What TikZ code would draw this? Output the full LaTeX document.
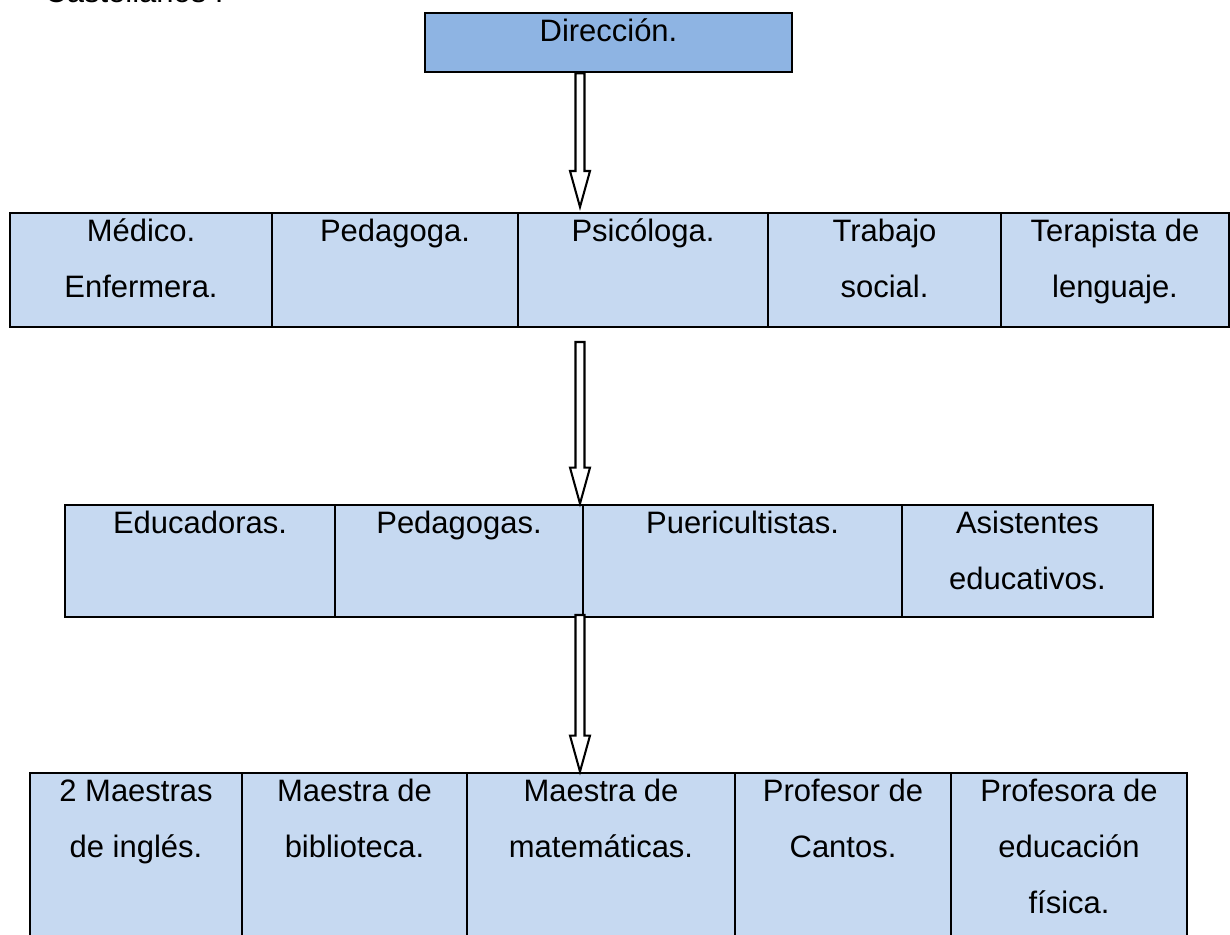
\documentclass[tikz,border=0pt]{standalone}
\usepackage{fontspec}
\setmainfont{Liberation Sans}
\usetikzlibrary{calc,fit}
\definecolor{dirblue}{HTML}{8EB4E3}
\definecolor{cellblue}{HTML}{C6D9F1}
% lines of a cell, first baseline is the node's base
\newcommand{\celltext}[1]{\begin{tabular}[t]{@{}c@{}}#1\end{tabular}}
% hollow block arrow from #1 down to the tip #2
\newcommand{\blockarrow}[2]{%
  \draw[arrowbody] ($(#1)+(-4.5,0)$) -- ($(#2)+(-4.5,-36)$) -- ($(#2)+(-10,-36)$)
    -- (#2) -- ($(#2)+(10,-36)$) -- ($(#2)+(4.5,-36)$) -- ($(#1)+(4.5,0)$) -- cycle;}

\begin{document}
\begin{tikzpicture}[x = 0.3875pt, y = -0.3875pt,
    cell/.style = {draw, line width = 1.1pt, fill = cellblue, inner sep = 0pt},
    txt/.style = {anchor = base, yshift = -11.7pt, inner sep = 0pt,
      font = \fontsize{12}{21.7}\selectfont},
    arrowbody/.style = {draw, fill = white, line width = 0.8pt}]
    \useasboundingbox (0,0) rectangle (1230,934);
    \node[anchor = base west, inner sep = 0pt, font = \fontsize{12}{21.7}\selectfont] (hdr) at (44,3) {Castellanos I};
    % Direction
    \node[cell, fill = dirblue, fit = {(425,13) (792,72)}] (dir) {};
    \node[txt] (dirt) at (dir.north) {Dirección.};
    % Specialists
    \node[cell, fit = {(10,213) (272,327)}] (m1) {};
    \node[cell, fit = {(272,213) (518,327)}] (m2) {};
    \node[cell, fit = {(518,213) (768,327)}] (m3) {};
    \node[cell, fit = {(768,213) (1001,327)}] (m4) {};
    \node[cell, fit = {(1001,213) (1229,327)}] (m5) {};
    \node[txt] (m1t) at (m1.north) {\celltext{Médico.\\Enfermera.}};
    \node[txt] (m2t) at (m2.north) {Pedagoga.};
    \node[txt] (m3t) at (m3.north) {Psicóloga.};
    \node[txt] (m4t) at (m4.north) {\celltext{Trabajo\\social.}};
    \node[txt] (m5t) at (m5.north) {\celltext{Terapista de\\lenguaje.}};
    % Educators
    \node[cell, fit = {(65,505) (335,617)}] (e1) {};
    \node[cell, fit = {(335,505) (583,617)}] (e2) {};
    \node[cell, fit = {(583,505) (902,617)}] (e3) {};
    \node[cell, fit = {(902,505) (1153,617)}] (e4) {};
    \node[txt] (e1t) at (e1.north) {Educadoras.};
    \node[txt] (e2t) at (e2.north) {Pedagogas.};
    \node[txt] (e3t) at (e3.north) {Puericultistas.};
    \node[txt] (e4t) at (e4.north) {\celltext{Asistentes\\educativos.}};
    % Teachers
    \node[cell, fit = {(30,773) (242,950)}] (t1) {};
    \node[cell, fit = {(242,773) (467,950)}] (t2) {};
    \node[cell, fit = {(467,773) (735,950)}] (t3) {};
    \node[cell, fit = {(735,773) (951,950)}] (t4) {};
    \node[cell, fit = {(951,773) (1187,950)}] (t5) {};
    \node[txt] (t1t) at (t1.north) {\celltext{2 Maestras\\de inglés.}};
    \node[txt] (t2t) at (t2.north) {\celltext{Maestra de\\biblioteca.}};
    \node[txt] (t3t) at (t3.north) {\celltext{Maestra de\\matemáticas.}};
    \node[txt] (t4t) at (t4.north) {\celltext{Profesor de\\Cantos.}};
    \node[txt] (t5t) at (t5.north) {\celltext{Profesora de\\educación\\física.}};
    % Arrows
    \coordinate (ax) at (580,0);
    \coordinate (s1) at (ax |- dir.south);
    \coordinate (d1) at (580,207);
    \coordinate (s2) at (580,342);
    \coordinate (d2) at (ax |- e2.north);
    \coordinate (s3) at (580,615);
    \coordinate (d3) at (ax |- t3.north);
    \blockarrow{s1}{d1}
    \blockarrow{s2}{d2}
    \blockarrow{s3}{d3}
  \end{tikzpicture}
\end{document}
